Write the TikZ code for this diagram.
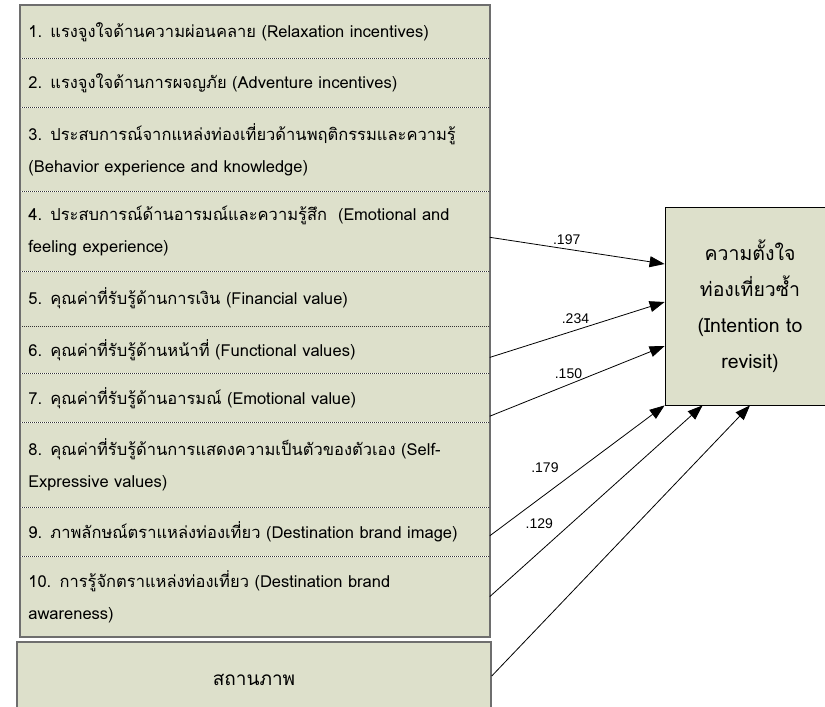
\documentclass[tikz,border=0pt]{standalone}
\usepackage{fontspec}
\setmainfont[Script=Thai]{Loma}
\newfontfamily\coeffont{Liberation Sans}
\usetikzlibrary{positioning,arrows.meta}
\tikzset{every picture/.style={line width=0.8pt}}
\definecolor{boxfill}{RGB}{221,224,203}
\definecolor{frameline}{RGB}{110,110,110}

\begin{document}
\begin{tikzpicture}[x=1pt, y=-1pt, node distance=0pt,
  >={Triangle[length=15pt,width=11pt]},
  factor/.style={fill=boxfill, text width=453pt, inner xsep=8pt, inner ysep=0pt,
    align=left, font=\fontsize{16.5}{32}\selectfont},
  sep/.style={dash pattern=on 1.2pt off 0.8pt, line width=0.7pt, black!80},
  frame/.style={draw=frameline, line width=1.5pt},
  coef/.style={font=\coeffont\fontsize{14}{16}\selectfont, inner sep=1pt}]
  \useasboundingbox (0,0) rectangle (825,707);
  \clip (0,0) rectangle (825,707);
  \node[factor, minimum height=53pt, anchor=north west] (f1) at (20,5) {1. แรงจูงใจด้านความผ่อนคลาย (Relaxation incentives)};
  \node[factor, minimum height=48pt, below=of f1] (f2) {2. แรงจูงใจด้านการผจญภัย (Adventure incentives)};
  \node[factor, minimum height=83pt, below=of f2] (f3) {3. ประสบการณ์จากแหล่งท่องเที่ยวด้านพฤติกรรมและความรู้\\(Behavior experience and knowledge)};
  \node[factor, minimum height=79pt, below=of f3] (f4) {4. ประสบการณ์ด้านอารมณ์และความรู้สึก~ (Emotional and\\feeling experience)};
  \node[factor, minimum height=54pt, below=of f4] (f5) {5. คุณค่าที่รับรู้ด้านการเงิน (Financial value)};
  \node[factor, minimum height=47pt, below=of f5] (f6) {6. คุณค่าที่รับรู้ด้านหน้าที่ (Functional values)};
  \node[factor, minimum height=48pt, below=of f6] (f7) {7. คุณค่าที่รับรู้ด้านอารมณ์ (Emotional value)};
  \node[factor, minimum height=84pt, below=of f7] (f8) {8. คุณค่าที่รับรู้ด้านการแสดงความเป็นตัวของตัวเอง (Self-\\Expressive values)};
  \node[factor, minimum height=48pt, below=of f8] (f9) {9. ภาพลักษณ์ตราแหล่งท่องเที่ยว (Destination brand image)};
  \node[factor, minimum height=80pt, below=of f9] (f10) {10. การรู้จักตราแหล่งท่องเที่ยว (Destination brand\\awareness)};
  \foreach \n in {f1,f2,f3,f4,f5,f6,f7,f8,f9}{
    \draw[sep] (\n.south west) -- (\n.south east);
  }
  \draw[frame] (f1.north west) rectangle (f10.south east);
  \node[fill=boxfill, frame, minimum width=474pt, minimum height=76pt,
    font=\fontsize{19}{22}\selectfont] (status) at (254,680) {สถานภาพ};
  \node[fill=boxfill, draw=black, line width=0.8pt, minimum width=170pt, minimum height=198pt,
    align=center, font=\fontsize{19.5}{36}\selectfont] (intent) at (750,306)
    {ความตั้งใจ\\ท่องเที่ยวซ้ำ\\(Intention to\\revisit)};
  \draw[->] ([yshift=-6pt]f4.east) -- ([yshift=42pt]intent.west) node[coef, pos=0.44, above=3pt] {.197};
  \draw[->] ([yshift=-7.5pt]f6.east) -- ([yshift=4pt]intent.west) node[coef, pos=0.49, above=5pt] {.234};
  \draw[->] ([yshift=-18pt]f7.east) -- ([yshift=-40pt]intent.west) node[coef, pos=0.45, above=5pt] {.150};
  \draw[->] ([yshift=-4pt]f9.east) -- (intent.south west) node[coef, pos=0.47, above left=0pt and 12pt] {.179};
  \draw[->] (f10.east) -- ([xshift=38pt]intent.south west) node[coef, pos=0.35, above left=0pt and 10pt] {.129};
  \draw[->] ([yshift=4pt]status.east) -- (intent.south);
\end{tikzpicture}
\end{document}
